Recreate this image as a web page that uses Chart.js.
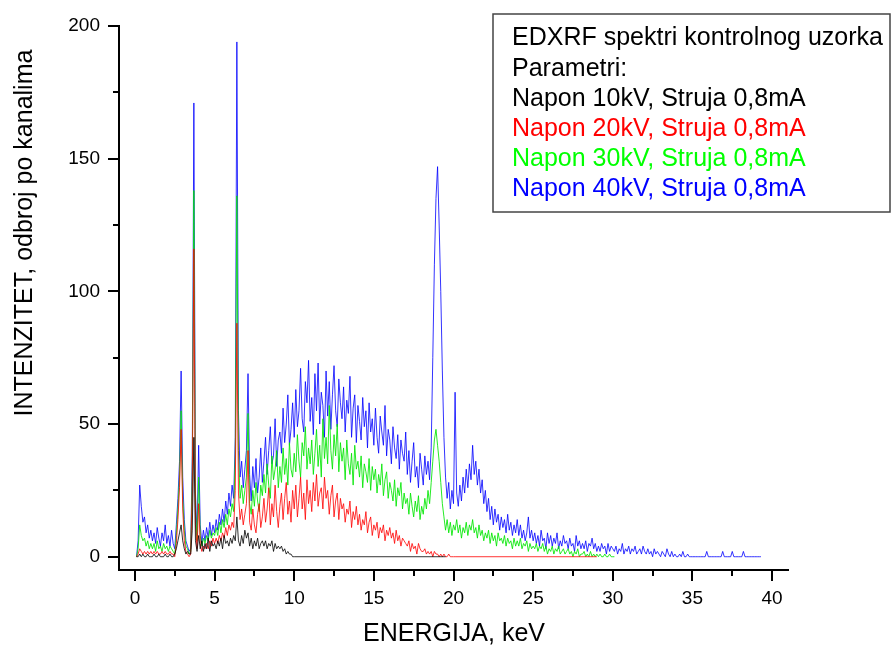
<!DOCTYPE html>
<html>
<head>
<meta charset="utf-8">
<title>EDXRF spektri kontrolnog uzorka</title>
<script src="https://cdn.jsdelivr.net/npm/chart.js@4.4.1/dist/chart.umd.min.js"></script>
<style>
  html, body { margin: 0; padding: 0; background: #fff; }
  #wrap { width: 892px; height: 648px; }
</style>
</head>
<body>
<div id="wrap"><canvas id="chart-edxrf" width="892" height="648"></canvas></div>
<script>
/*
  ==================================================
  ====================== DATA ======================
  ==================================================
*/

// channel calibration of the detector
const firstChannelKeV = 0.1;
const channelKeV = 0.1;

const seriesLabels = [
  "Napon 10kV, Struja 0,8mA",
  "Napon 20kV, Struja 0,8mA",
  "Napon 30kV, Struja 0,8mA",
  "Napon 40kV, Struja 0,8mA"
];
const seriesColors = ["#000000", "#ff0000", "#00ff00", "#0000ff"];

// 10 kV, counts per channel from 0.1 keV
const counts10kV = [
  0, 0, 1, 0, 1, 0, 0, 1, 0, 0,          // 0.1 - 1.0
  0, 1, 0, 0, 1, 0, 0, 0, 1, 0,          // 1.1 - 2.0
  0, 1, 0, 0, 1, 3, 6, 9, 12, 6,         // 2.1 - 3.0
  3, 1, 2, 1, 1, 10, 45, 6, 2, 8,        // 3.1 - 4.0
  3, 6, 2, 5, 3, 7, 2, 6, 4, 5,          // 4.1 - 5.0
  3, 6, 4, 7, 3, 8, 5, 6, 4, 7,          // 5.1 - 6.0
  5, 8, 6, 15, 6, 4, 8, 5, 10, 7,        // 6.1 - 7.0
  9, 4, 7, 3, 6, 4, 7, 3, 5, 6,          // 7.1 - 8.0
  4, 6, 3, 5, 4, 6, 2, 5, 3, 4,          // 8.1 - 9.0
  3, 4, 2, 3, 1, 2, 1, 1, 0, 0           // 9.1 - 10.0
];
const baselineEnd10kV = 19.5;

// 20 kV
const counts20kV = [
  0, 1, 3, 2, 1, 2, 1, 2, 1, 2,
  1, 2, 1, 2, 1, 1, 2, 1, 2, 1,
  1, 2, 1, 1, 0, 5, 14, 26, 48, 18,
  6, 2, 1, 0, 1, 24, 116, 12, 3, 20,
  5, 2, 4, 3, 5, 3, 6, 4, 7, 5,
  7, 5, 8, 6, 9, 7, 11, 8, 12, 10,
  13, 11, 25, 88, 24, 14, 18, 12, 16, 20,
  40, 13, 10, 18, 12, 9, 16, 20, 11, 15,
  22, 13, 18, 26, 12, 20, 15, 27, 17, 11,
  19, 24, 14, 22, 28, 16, 21, 13, 25, 18,
  27, 15, 22, 30, 18, 24, 14, 29, 20, 25,   // 10.1 - 11.0
  17, 28, 21, 31, 19, 24, 26, 18, 30, 22,
  25, 16, 23, 27, 15, 21, 24, 14, 22, 18,
  20, 13, 18, 16, 21, 11, 17, 14, 19, 12,
  16, 10, 14, 12, 17, 9, 13, 15, 8, 12,
  10, 13, 7, 11, 9, 12, 6, 10, 8, 11,
  7, 9, 5, 10, 6, 8, 4, 7, 6, 5,
  4, 6, 2, 5, 3, 4, 1, 5, 3, 2,
  2, 3, 1, 2, 1, 2, 0, 2, 1, 1,
  0, 1, 0, 1, 0, 0, 1, 0, 0, 0,           // 19.1 - 20.0
  0
];
const baselineEnd20kV = 29.0;

// 30 kV
const counts30kV = [
  0, 3, 12, 8, 6, 7, 4, 6, 3, 5,
  3, 5, 2, 6, 3, 4, 2, 5, 3, 4,
  2, 4, 3, 2, 1, 8, 18, 30, 55, 22,
  10, 4, 3, 1, 2, 30, 138, 18, 6, 30,
  8, 4, 7, 5, 8, 6, 10, 7, 9, 8,
  11, 8, 13, 9, 14, 11, 16, 12, 18, 15,
  20, 17, 38, 136, 40, 22, 27, 20, 25, 30,
  54, 20, 16, 25, 19, 28, 21, 17, 27, 23,
  31, 24, 35, 27, 22, 38, 29, 33, 40, 26,
  34, 28, 41, 31, 37, 27, 43, 33, 30, 39,
  32, 46, 36, 30, 43, 38, 49, 33, 41, 35,   // 10.1 - 11.0
  44, 31, 39, 48, 34, 42, 30, 52, 37, 45,
  35, 57, 40, 33, 46, 38, 50, 32, 43, 36,
  41, 29, 44, 35, 31, 39, 27, 42, 33, 36,
  30, 38, 26, 35, 32, 28, 37, 25, 34, 29,
  33, 24, 31, 27, 35, 23, 29, 32, 22, 28,
  25, 21, 29, 19, 26, 23, 28, 18, 24, 20,
  22, 16, 24, 19, 15, 21, 17, 23, 14, 19,
  16, 22, 18, 25, 20, 28, 36, 44, 48, 42,
  36, 28, 20, 15, 10, 14, 9, 13, 8, 12,
  10, 14, 9, 12, 7, 11, 9, 13, 8, 12,     // 20.1 - 21.0
  10, 14, 9, 11, 7, 12, 8, 10, 6, 9,
  7, 10, 5, 9, 6, 8, 4, 9, 6, 7,
  5, 8, 4, 7, 5, 6, 3, 7, 4, 6,
  4, 7, 3, 5, 4, 6, 2, 5, 3, 4,
  3, 5, 2, 4, 3, 5, 2, 4, 1, 3,
  2, 4, 1, 3, 2, 4, 1, 2, 3, 1,
  2, 3, 1, 2, 0, 2, 1, 3, 0, 1,
  1, 2, 0, 1, 0, 2, 0, 1, 0, 1,
  0, 1, 0, 0, 1, 0, 0, 1, 0, 0,           // 29.1 - 30.0
  0
];

// 40 kV
const counts40kV = [
  0, 6, 27, 19, 13, 15, 9, 12, 7, 10,
  6, 9, 5, 11, 7, 4, 9, 6, 12, 5,
  8, 4, 10, 5, 3, 12, 22, 36, 70, 30,
  14, 6, 4, 2, 3, 38, 171, 24, 8, 42,
  12, 5, 10, 6, 11, 7, 13, 8, 12, 9,
  14, 10, 16, 12, 18, 13, 21, 16, 24, 19,
  27, 22, 45, 194, 55, 30, 36, 26, 33, 40,
  69, 31, 21, 34, 26, 37, 24, 30, 41, 28,
  36, 45, 31, 40, 49, 35, 38, 52, 34, 44,
  47, 39, 56, 43, 50, 61, 42, 48, 58, 45,
  63, 49, 55, 71, 52, 47, 66, 58, 74, 51,   // 10.1 - 11.0
  60, 46, 69, 55, 73, 50, 62, 57, 45, 70,
  53, 66, 48, 61, 72, 55, 49, 67, 58, 52,
  64, 47, 59, 54, 68, 45, 56, 61, 43, 57,
  51, 44, 60, 49, 55, 41, 58, 47, 52, 42,
  56, 45, 39, 53, 47, 42, 57, 38, 48, 44,
  35, 49, 41, 37, 46, 33, 44, 39, 36, 47,
  31, 40, 28, 36, 43, 30, 34, 26, 39, 33,
  27, 38, 31, 36, 29, 41, 75, 110, 135, 147,
  125, 100, 70, 45, 30, 22, 28, 18, 25, 20,
  62, 24, 19, 27, 21, 30, 24, 33, 26, 35,  // 20.1 - 21.0
  29, 42, 31, 36, 27, 33, 24, 29, 20, 25,
  17, 22, 14, 19, 12, 18, 13, 16, 10, 15,
  11, 14, 9, 16, 10, 13, 8, 12, 9, 14,
  8, 12, 7, 10, 6, 9, 15, 7, 10, 6,
  9, 5, 8, 4, 10, 6, 7, 3, 9, 5,
  8, 4, 7, 5, 9, 3, 6, 4, 8, 5,
  6, 3, 7, 4, 5, 2, 8, 4, 6, 3,
  5, 3, 6, 2, 5, 4, 7, 3, 5, 2,
  4, 2, 5, 3, 4, 1, 5, 2, 4, 3,
  2, 4, 1, 3, 2, 5, 1, 3, 2, 4,           // 30.1 - 31.0
  1, 3, 2, 4, 1, 2, 3, 1, 4, 2,
  1, 3, 1, 2, 0, 3, 1, 2, 1, 0,
  2, 1, 0, 3, 1, 0, 2, 0, 1, 0,
  0, 1, 0, 2, 0, 0, 1, 0, 0, 0,
  0, 0, 0, 0, 0, 0, 0, 0, 2, 0,
  0, 0, 0, 0, 0, 0, 0, 0, 2, 0,
  0, 0, 0, 0, 2, 0, 0, 0, 0, 0,
  0, 2, 0, 0, 0, 0, 0, 0, 0, 0,
  0, 0, 0                                 // 39.1 - 39.3
];

// axes
const xMin = -1, xMax = 41;
const yMin = -5, yMax = 200;
const xTickValues = [0, 5, 10, 15, 20, 25, 30, 35, 40];
const xMinorTicks = [2.5, 7.5, 12.5, 17.5, 22.5, 27.5, 32.5, 37.5];
const yTickValues = [0, 50, 100, 150, 200];
const yMinorTicks = [25, 75, 125, 175];

const xTitle = "ENERGIJA, keV";
const yTitle = "INTENZITET, odbroj po kanalima";
const boxTitle = ["EDXRF spektri kontrolnog uzorka", "Parametri:"];

/*
  ==================================================
  ===================== CHART ======================
  ==================================================
*/

let toPoints = (counts, baselineEnd) => {
  let pts = counts.map((c, i) => ({
    x: Math.round((firstChannelKeV + i * channelKeV) * 100) / 100,
    y: c
  }));
  if (baselineEnd) pts.push({ x: baselineEnd, y: 0 });
  return pts;
};

let seriesData = [
  toPoints(counts10kV, baselineEnd10kV),
  toPoints(counts20kV, baselineEnd20kV),
  toPoints(counts30kV),
  toPoints(counts40kV)
];

// thin traces look a little washed out in the original
let lineColors = ["rgba(0,0,0,0.8)", "rgba(255,0,0,0.8)", "rgba(0,230,0,0.85)", "rgba(0,0,255,0.8)"];

const FONT = "'Liberation Sans', Arial, sans-serif";

// minor ticks, axis titles and the text box
let extras = {
  id: "extras",
  afterDraw(chart) {
    let { ctx, chartArea, scales: { x, y } } = chart;
    ctx.save();

    ctx.strokeStyle = "#000";
    ctx.lineWidth = 2;
    ctx.beginPath();
    xMinorTicks.forEach(v => {
      let px = Math.round(x.getPixelForValue(v));
      ctx.moveTo(px, chartArea.bottom);
      ctx.lineTo(px, chartArea.bottom + 6);
    });
    yMinorTicks.forEach(v => {
      let py = Math.round(y.getPixelForValue(v));
      ctx.moveTo(chartArea.left, py);
      ctx.lineTo(chartArea.left - 6, py);
    });
    ctx.stroke();

    ctx.fillStyle = "#000";
    ctx.font = "25px " + FONT;
    ctx.textAlign = "center";
    ctx.textBaseline = "middle";
    ctx.fillText(xTitle, 454, 634);

    ctx.save();
    ctx.translate(25, 233);
    ctx.rotate(-Math.PI / 2);
    ctx.fillText(yTitle, 0, 0);
    ctx.restore();

    // text box
    ctx.strokeStyle = "#444";
    ctx.lineWidth = 1.5;
    ctx.strokeRect(493, 14, 397, 198);

    ctx.textAlign = "left";
    ctx.textBaseline = "alphabetic";
    let lines = boxTitle.map(t => ({ t, c: "#000" }))
      .concat(seriesLabels.map((t, i) => ({ t, c: seriesColors[i] })));
    let baselines = [45, 76, 106, 136, 166, 196];
    lines.forEach((l, i) => {
      ctx.fillStyle = l.c;
      ctx.fillText(l.t, 512, baselines[i]);
    });

    ctx.restore();
  }
};

let ctxEdx = document.getElementById("chart-edxrf").getContext("2d");

let chartEdx = new Chart(ctxEdx, {
  type: "line",
  data: {
    datasets: seriesData.map((d, i) => ({
      label: seriesLabels[i],
      data: d,
      borderColor: lineColors[i],
      borderWidth: 1,
      pointRadius: 0,
      fill: false,
      tension: 0
    }))
  },
  options: {
    responsive: false,
    animation: false,
    events: [],
    layout: { padding: { left: 0, right: 104, top: 26, bottom: 0 } },
    plugins: { legend: { display: false }, tooltip: { enabled: false } },
    scales: {
      x: {
        type: "linear",
        min: xMin,
        max: xMax,
        afterBuildTicks: s => { s.ticks = xTickValues.map(v => ({ value: v })); },
        afterFit: s => { s.height = 78; },
        grid: { drawOnChartArea: false, color: "#000", lineWidth: 2, tickLength: 11 },
        border: { display: true, color: "#000", width: 2 },
        ticks: { color: "#000", padding: 6, maxRotation: 0, font: { size: 19, family: FONT } }
      },
      y: {
        type: "linear",
        min: yMin,
        max: yMax,
        afterBuildTicks: s => { s.ticks = yTickValues.map(v => ({ value: v })); },
        afterFit: s => { s.width = 119; },
        grid: { drawOnChartArea: false, color: "#000", lineWidth: 2, tickLength: 11 },
        border: { display: true, color: "#000", width: 2 },
        ticks: { color: "#000", padding: 8, font: { size: 19, family: FONT } }
      }
    }
  },
  plugins: [extras]
});
</script>
</body>
</html>
